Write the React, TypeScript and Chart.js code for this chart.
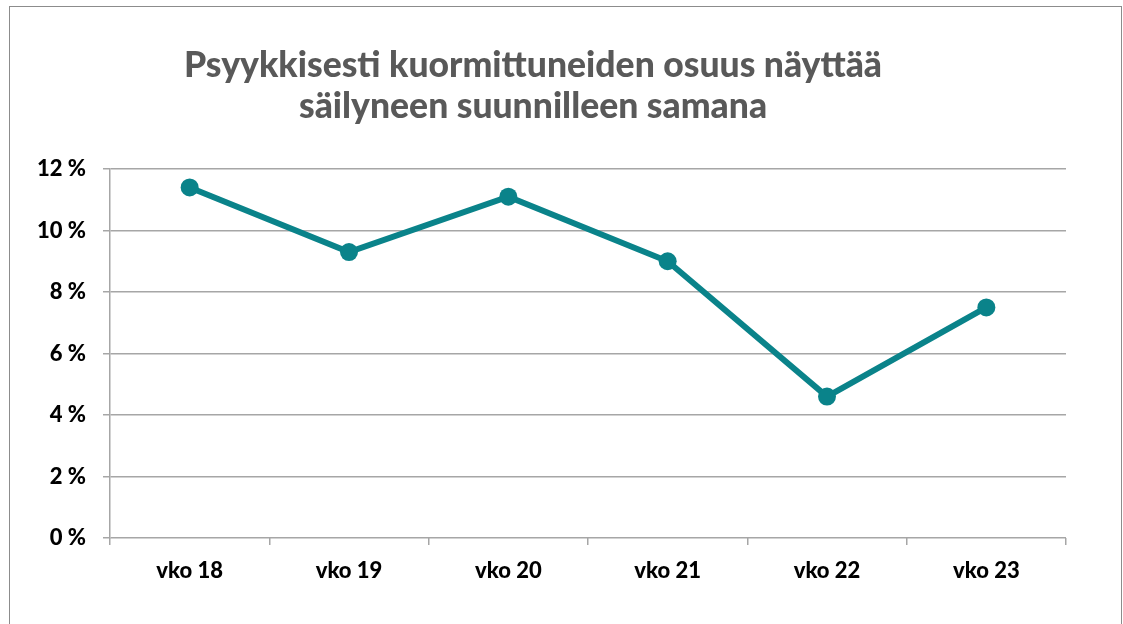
import React, { useEffect, useRef } from "react";
import { Chart, registerables } from "chart.js";

Chart.register(...registerables);

const categories = ["vko 18", "vko 19", "vko 20", "vko 21", "vko 22", "vko 23"];
const values = [11.4, 9.3, 11.1, 9.0, 4.6, 7.5];
const titleLines = ["Psyykkisesti kuormittuneiden osuus näyttää", "säilyneen suunnilleen samana"];
const yTicks = [0, 2, 4, 6, 8, 10, 12];

const FONT = "Lato, 'Open Sans', sans-serif";

const framePlugin = {
  id: "frame",
  beforeDraw(chart: any) {
    const ctx = chart.ctx;
    ctx.save();
    ctx.fillStyle = "#ffffff";
    ctx.fillRect(0, 0, chart.width, chart.height);
    ctx.strokeStyle = "#8c8c8c";
    ctx.lineWidth = 1;
    ctx.strokeRect(9.5, 6.5, 1112, 700);
    ctx.restore();
  },
  afterDraw(chart: any) {
    const ctx = chart.ctx;
    ctx.save();
    ctx.fillStyle = "#595959";
    ctx.font = `900 35.5px ${FONT}`;
    ctx.textAlign = "center";
    ctx.textBaseline = "middle";
    titleLines.forEach((t, i) => ctx.fillText(t, 533, 66 + i * 41));
    ctx.restore();
  },
};

export default function App() {
  const ref = useRef<HTMLCanvasElement>(null);
  useEffect(() => {
    if (!ref.current) return;
    const chart = new Chart(ref.current, {
      type: "line",
      data: {
        labels: categories,
        datasets: [
          {
            data: values,
            borderColor: "#0a838a",
            backgroundColor: "#0a838a",
            borderWidth: 6,
            pointRadius: 9,
            pointHoverRadius: 9,
            pointBackgroundColor: "#0a838a",
            pointBorderWidth: 0,
            tension: 0,
          },
        ],
      },
      options: {
        animation: false,
        responsive: false,
        maintainAspectRatio: false,
        layout: { padding: { left: 0, top: 169, right: 57, bottom: 0 } },
        plugins: { legend: { display: false }, tooltip: { enabled: false }, title: { display: false } },
        scales: {
          x: {
            offset: true,
            grid: { drawOnChartArea: false, offset: true, tickLength: 7, color: "#a6a6a6", lineWidth: 1.5 },
            border: { display: false },
            ticks: { color: "#000", font: { family: FONT, weight: "900", size: 22 }, padding: 13 },
            afterFit(scale: any) {
              scale.height = 86;
            },
          },
          y: {
            min: 0,
            max: 12,
            afterBuildTicks(scale: any) {
              scale.ticks = yTicks.map((v) => ({ value: v }));
            },
            grid: { color: "#a6a6a6", lineWidth: 1.5, tickLength: 7 },
            border: { display: true, color: "#a6a6a6", width: 1.5 },
            ticks: {
              color: "#000",
              font: { family: FONT, weight: "900", size: 22 },
              padding: 17,
              callback: (v: any) => `${v} %`,
            },
            afterFit(scale: any) {
              scale.width = 110;
            },
          },
        },
      },
      plugins: [framePlugin],
    });
    return () => chart.destroy();
  }, []);
  return (
    <div style={{ position: "fixed", left: 0, top: 0, width: 1123, height: 624 }}>
      <canvas ref={ref} width={1123} height={624} style={{ display: "block" }} />
    </div>
  );
}
